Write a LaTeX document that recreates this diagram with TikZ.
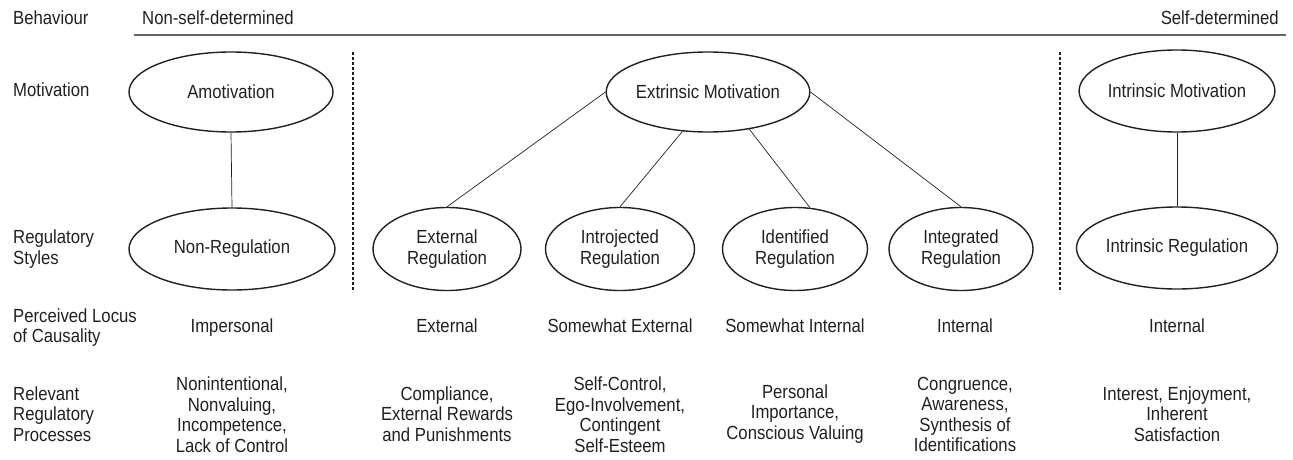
\documentclass[tikz,border=0pt]{standalone}
\usepackage{fontspec}
\setmainfont{Liberation Sans}[FakeStretch=0.88]
\usetikzlibrary{shapes.geometric}
\definecolor{ink}{RGB}{35,31,32}
\definecolor{rule}{RGB}{100,100,100}
\newcommand\dtxt{\fontsize{19}{20.5}\selectfont}
\begin{document}
\begin{tikzpicture}[x=1pt,y=-1pt,
  ell/.style={draw=ink, line width=1.4pt, ellipse, inner sep=0pt, align=center, font=\dtxt, text=ink},
  lbl/.style={anchor=west, align=left, font=\dtxt, text=ink, inner sep=0pt},
  val/.style={align=center, font=\dtxt, text=ink, inner sep=0pt},
  one/.style={text height=13.5pt, text depth=4pt},
  conn/.style={draw=ink, line width=0.7pt},
  divider/.style={draw=ink, line width=1.5pt, dash pattern=on 3pt off 2pt},
  hrule/.style={draw=rule, line width=1.2pt}]
\useasboundingbox (0,0) rectangle (1293,460);
% top row
\node[lbl,one] (lbeh) at (13,20) {Behaviour};
\node[lbl,one] (lnon) at (142,20) {Non-self-determined};
\node[lbl,one,anchor=east] (lself) at (1279,20) {Self-determined};
\coordinate (hl) at (134,35);
\coordinate (hr) at (1286,35);
\draw[hrule] (hl) -- (hr);
% row labels
\node[lbl,one] (lmot) at (13,92) {Motivation};
\node[lbl] (lreg) at (13,249) {Regulatory\\Styles};
\node[lbl] (lloc) at (13,327.5) {Perceived Locus\\of Causality};
\node[lbl] (lproc) at (13,414) {Relevant\\Regulatory\\Processes};
% ellipses
\node[ell, minimum width=204pt, minimum height=80pt] (amot) at (231,92) {Amotivation};
\node[ell, minimum width=196pt, minimum height=80pt] (extr) at (708,92) {Extrinsic Motivation};
\node[ell, minimum width=190pt, minimum height=82pt] (intm) at (1177,91) {Intrinsic Motivation};
\node[ell, minimum width=206pt, minimum height=82pt] (nonr) at (232,249) {Non-Regulation};
\node[ell, minimum width=148pt, minimum height=83pt] (extg) at (447,249) {External\\Regulation};
\node[ell, minimum width=149pt, minimum height=83pt] (intj) at (620,249) {Introjected\\Regulation};
\node[ell, minimum width=145pt, minimum height=83pt] (iden) at (795,249) {Identified\\Regulation};
\node[ell, minimum width=144pt, minimum height=83pt] (intg) at (961,249) {Integrated\\Regulation};
\node[ell, minimum width=190pt, minimum height=82pt] (intr) at (1177,248) {Intrinsic Regulation};
% connectors
\draw[conn] (amot.south) -- (nonr.north);
\draw[conn] (extr.west) -- (extg.north);
\draw[conn] (extr.237) -- (intj.north);
\draw[conn] (extr.318) -- (iden.70);
\draw[conn] (extr.east) -- (intg.north);
\draw[conn] (intm.south) -- (intr.north);
% dividers
\coordinate (d1t) at (353,52);
\coordinate (d1b) at (353,292);
\coordinate (d2t) at (1060,52);
\coordinate (d2b) at (1060,292);
\draw[divider] (d1t) -- (d1b);
\draw[divider] (d2t) -- (d2b);
% locus row
\node[val,one] (v1) at (232,327.5) {Impersonal};
\node[val,one] (v2) at (447,327.5) {External};
\node[val,one] (v3) at (620,327.5) {Somewhat External};
\node[val,one] (v4) at (795,327.5) {Somewhat Internal};
\node[val,one] (v5) at (965,327.5) {Internal};
\node[val,one] (v6) at (1177,327.5) {Internal};
% processes row
\node[val] (p1) at (232,414.5) {Nonintentional,\\Nonvaluing,\\Incompetence,\\Lack of Control};
\node[val] (p2) at (447,414) {Compliance,\\External Rewards\\and Punishments};
\node[val] (p3) at (620,414.5) {Self-Control,\\Ego-Involvement,\\Contingent\\Self-Esteem};
\node[val] (p4) at (795,414) {Personal\\Importance,\\Conscious Valuing};
\node[val] (p5) at (965,414.5) {Congruence,\\Awareness,\\Synthesis of\\Identifications};
\node[val] (p6) at (1177,414) {Interest, Enjoyment,\\Inherent\\Satisfaction};
\end{tikzpicture}
\end{document}
